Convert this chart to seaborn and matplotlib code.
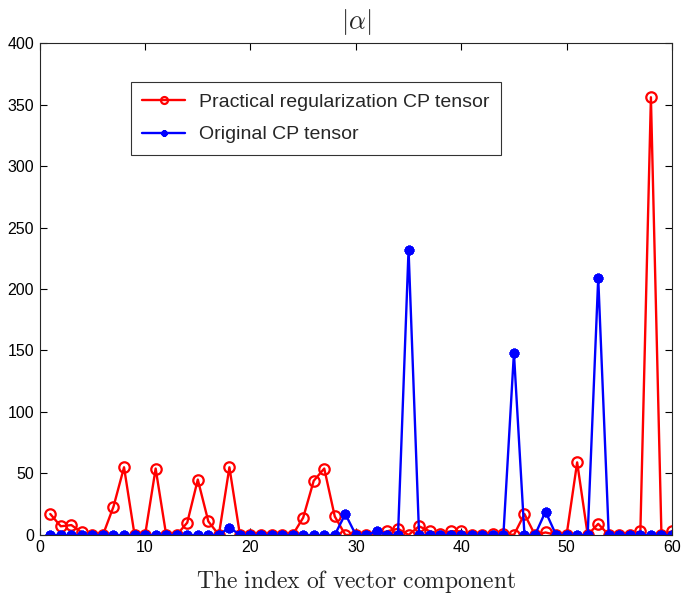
"""Recreate the |alpha| comparison chart: regularized vs original CP tensor."""

import matplotlib

matplotlib.use("Agg")
import matplotlib.pyplot as plt
import numpy as np
import seaborn as sns

# index of vector component, 1..60
component_index = list(range(1, 61))

practical_reg_cp = [
    17, 7, 8, 2, 0, 0, 23, 55, 0, 0,
    54, 0, 0, 10, 45, 11, 0, 55, 0, 0,
    0, 0, 0, 0, 14, 44, 54, 15, 0, 0,
    0, 1, 3, 5, 0, 7, 3, 1, 3, 3,
    0, 0, 1, 1, 0, 17, 0, 2, 0, 0,
    59, 0, 9, 0, 0, 0, 3, 356, 0, 3,
]

original_cp = [
    0, 0, 0, 0, 0, 0, 0, 0, 0, 0,
    0, 0, 0, 0, 0, 0, 0, 6, 0, 0,
    0, 0, 0, 0, 0, 0, 0, 0, 17, 0,
    0, 3, 0, 0, 232, 0, 0, 0, 0, 0,
    0, 0, 0, 0, 148, 0, 0, 19, 0, 0,
    0, 0, 209, 0, 0, 0, 0, 0, 0, 0,
]

series_labels = ["Practical regularization CP tensor", "Original CP tensor"]
x_ticks = list(range(0, 61, 10))
y_ticks = list(range(0, 401, 50))


def main() -> None:
    sns.set_theme(style="ticks")
    plt.rcParams["font.family"] = ["Liberation Sans", "DejaVu Sans"]
    plt.rcParams["mathtext.fontset"] = "cm"

    fig = plt.figure(figsize=(6.85, 5.99), dpi=100)
    ax = fig.add_axes([0.058, 0.107, 0.923, 0.821])

    sns.lineplot(
        x=component_index, y=practical_reg_cp, ax=ax, color="red",
        linewidth=1.7, marker="o", markersize=7.5, markerfacecolor="none",
        markeredgecolor="red", markeredgewidth=1.6, label=series_labels[0],
    )
    sns.lineplot(
        x=component_index, y=original_cp, ax=ax, color="blue",
        linewidth=1.7, marker=(8, 2, 0), markersize=7,
        markeredgecolor="blue", markeredgewidth=2.2, label=series_labels[1],
    )

    ax.set_xlim(0, 60)
    ax.set_ylim(0, 400)
    ax.set_xticks(x_ticks)
    ax.set_yticks(y_ticks)
    ax.tick_params(axis="both", direction="in", length=5, width=0.8,
                   bottom=True, left=True, top=True, right=True,
                   labelsize=11.5, colors="black", pad=4)
    for spine in ax.spines.values():
        spine.set_visible(True)
        spine.set_color("#262626")
        spine.set_linewidth(0.8)

    ax.set_title(r"$|\alpha|$", fontsize=19, pad=10)
    ax.set_xlabel(r"$\mathrm{The\ index\ of\ vector\ component}$", fontsize=17, labelpad=9)

    leg = ax.legend(loc="upper left", bbox_to_anchor=(0.144, 0.921), fontsize=14,
                    frameon=True, fancybox=False, handlelength=2.2,
                    borderpad=0.6, labelspacing=0.75, handletextpad=0.7,
                    borderaxespad=0)
    leg.get_frame().set_edgecolor("black")
    leg.get_frame().set_linewidth(0.8)
    leg.legend_handles[0].set_markersize(5)
    leg.legend_handles[1].set_markersize(4.5)

    fig.savefig("out.png", dpi=100)
    plt.close(fig)


if __name__ == "__main__":
    main()
